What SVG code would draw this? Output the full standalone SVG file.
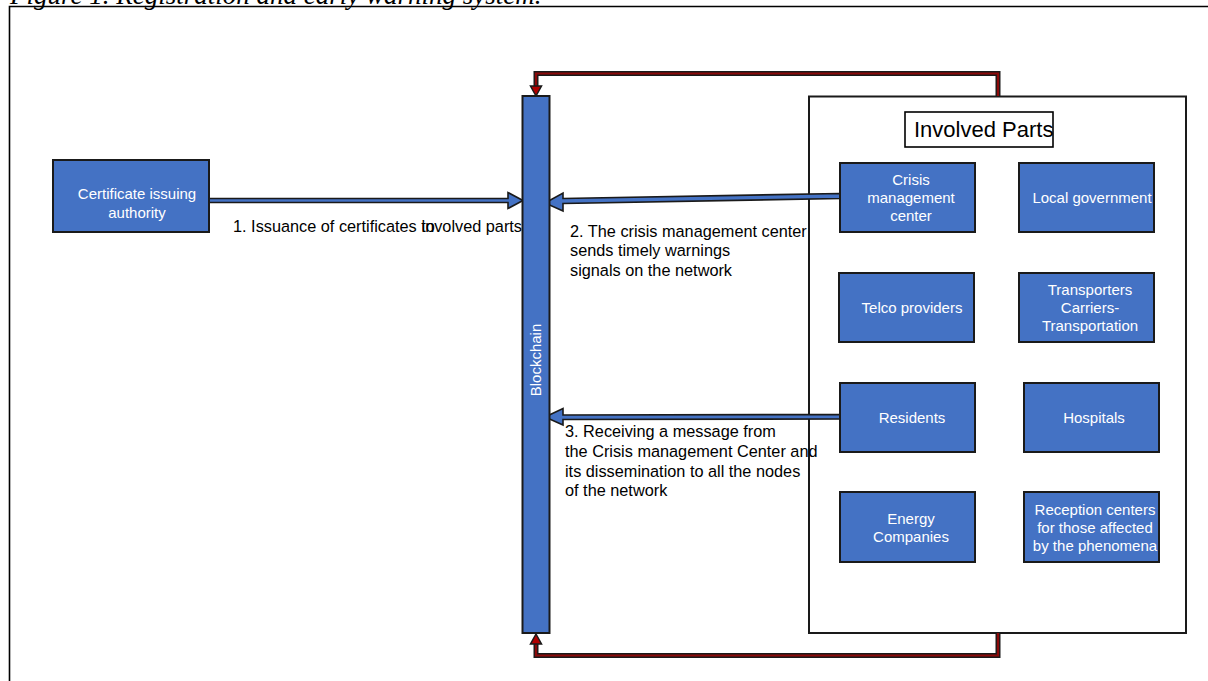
<svg xmlns="http://www.w3.org/2000/svg" width="1208" height="681" viewBox="0 0 1208 681">
<style>
.node{fill:#4472C4;stroke:#1a1a1a;stroke-width:2}
.nt{font-family:"Liberation Sans",Arial,sans-serif;font-size:15px;fill:#ffffff;text-anchor:middle}
.lbl{font-family:"Liberation Sans",Arial,sans-serif;font-size:16.3px;fill:#000000}
.barrow{fill:#4472C4;stroke:#1a1a1a;stroke-width:1.6;stroke-linejoin:miter}
.rout{fill:none;stroke:#1a1a1a;stroke-width:5;stroke-linejoin:miter}
.rin{fill:none;stroke:#8B0A0A;stroke-width:2.2;stroke-linejoin:miter}
.rhead{fill:#B00000;stroke:#1a1a1a;stroke-width:1.5}
</style>
<rect width="1208" height="681" fill="#ffffff"/>
<text x="10" y="4" font-family="'Liberation Serif','Times New Roman',serif" font-size="27" font-style="italic" fill="#000">Figure 1. Registration and early warning system.</text>
<path d="M9.5 681 V6.5 H1208" fill="none" stroke="#000" stroke-width="1.6"/>

<g id="involved-parts-container">
<rect x="809" y="96.5" width="377" height="536.5" fill="#ffffff" stroke="#1a1a1a" stroke-width="2"/>
<rect x="905" y="112" width="148" height="35" fill="#ffffff" stroke="#000" stroke-width="1.6"/>
<text x="914" y="137" font-family="'Liberation Sans',Arial,sans-serif" font-size="22" fill="#000">Involved Parts</text>
</g>

<g id="connectors">
<path class="rout" d="M998 96 V73.5 H536 V88"/>
<path class="rin" d="M998 96 V73.5 H536 V88"/>
<path class="rhead" d="M530.5 86 L541.5 86 L536 96 Z"/>
<path class="rout" d="M998 633 V655.5 H536 V642"/>
<path class="rin" d="M998 633 V655.5 H536 V642"/>
<path class="rhead" d="M530.5 644 L541.5 644 L536 634 Z"/>
<path class="barrow" d="M209 198.5 L508 198.5 L508 192.5 L523 200.5 L508 208.5 L508 202.5 L209 202.5 Z"/>
<path class="barrow" d="M840 193.5 L563 198.5 L563 193 L545 203 L563 211 L563 203.5 L840 198.5 Z"/>
<path class="barrow" d="M840 414.5 L563 415 L563 408.5 L545 417 L563 425 L563 419.5 L840 419 Z"/>
<text class="lbl" x="233" y="232">1. Issuance of certificates to</text>
<text class="lbl" x="522" y="232" text-anchor="end">involved parts</text>
<text class="lbl" x="570" y="237">2. The crisis management center</text>
<text class="lbl" x="570" y="256">sends timely warnings</text>
<text class="lbl" x="570" y="276">signals on the network</text>
<text class="lbl" x="565" y="437">3. Receiving a message from</text>
<text class="lbl" x="565" y="457">the Crisis management Center and</text>
<text class="lbl" x="565" y="477">its dissemination to all the nodes</text>
<text class="lbl" x="565" y="496">of the network</text>
</g>

<g id="certificate-authority">
<rect class="node" x="53" y="160" width="156" height="72"/>
<text class="nt" x="137" y="199">Certificate issuing</text>
<text class="nt" x="137" y="218">authority</text>
</g>

<g id="blockchain">
<rect class="node" x="522.5" y="96" width="27" height="537"/>
<text class="nt" transform="translate(541,360) rotate(-90)">Blockchain</text>
</g>

<g id="crisis-management-center">
<rect class="node" x="840" y="163" width="135" height="69"/>
<text class="nt" x="911" y="185">Crisis</text>
<text class="nt" x="911" y="203">management</text>
<text class="nt" x="911" y="221">center</text>
</g>
<g id="local-government">
<rect class="node" x="1019" y="163" width="135" height="69"/>
<text class="nt" x="1092" y="203">Local government</text>
</g>
<g id="telco-providers">
<rect class="node" x="839" y="273" width="135" height="69"/>
<text class="nt" x="912" y="313">Telco providers</text>
</g>
<g id="transporters">
<rect class="node" x="1019" y="273" width="135" height="69"/>
<text class="nt" x="1090" y="295">Transporters</text>
<text class="nt" x="1090" y="313">Carriers-</text>
<text class="nt" x="1090" y="331">Transportation</text>
</g>
<g id="residents">
<rect class="node" x="840" y="383" width="135" height="69"/>
<text class="nt" x="912" y="423">Residents</text>
</g>
<g id="hospitals">
<rect class="node" x="1024" y="383" width="135" height="69"/>
<text class="nt" x="1094" y="423">Hospitals</text>
</g>
<g id="energy-companies">
<rect class="node" x="840" y="492" width="135" height="70"/>
<text class="nt" x="911" y="524">Energy</text>
<text class="nt" x="911" y="542">Companies</text>
</g>
<g id="reception-centers">
<rect class="node" x="1024" y="492" width="135" height="70"/>
<text class="nt" x="1095" y="515">Reception centers</text>
<text class="nt" x="1095" y="533">for those affected</text>
<text class="nt" x="1095" y="551">by the phenomena</text>
</g>
</svg>
